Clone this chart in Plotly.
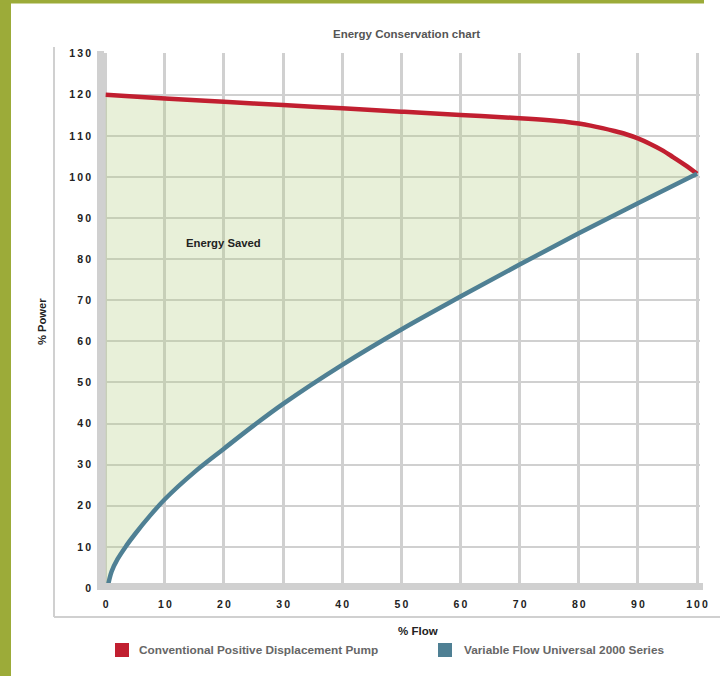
import plotly.graph_objects as go

# ---------------- data ----------------
flow_conventional = [0, 10, 20, 30, 40, 50, 60, 70, 75, 78, 80, 82, 84, 86, 88, 90,
                     92, 94, 96, 98, 100]
power_conventional = [120, 119.1, 118.3, 117.5, 116.7, 115.9, 115.1, 114.3, 113.8, 113.4,
                      113.0, 112.5, 111.9, 111.2, 110.4, 109.4, 108.1, 106.6, 104.8,
                      102.9, 100.8]

flow_variable = [0.3, 1, 2, 3.5, 5, 7.5, 10, 15, 20, 25, 30, 40, 50, 60, 70, 80, 90, 100]
power_variable = [0, 4, 7, 10.3, 13.2, 17.6, 21.6, 28.2, 33.9, 39.5, 44.8, 54.3, 62.9,
                  70.9, 78.7, 86.3, 93.6, 100.8]

x_ticks = [0, 10, 20, 30, 40, 50, 60, 70, 80, 90, 100]
y_ticks = [0, 10, 20, 30, 40, 50, 60, 70, 80, 90, 100, 110, 120, 130]

series_names = ["Conventional Positive Displacement Pump", "Variable Flow Universal 2000 Series"]
series_colors = ["#c11f30", "#4f8094"]

title_text = "Energy Conservation chart"
x_title = "% Flow"
y_title = "% Power"
region_label = "Energy Saved"

# ---------------- layout geometry (pixels) ----------------
W, H = 724, 676
L, R, T, B = 97, 700, 53, 590


def px(xp):
    return (xp - L) / (R - L)


def py(yp):
    return (B - yp) / (B - T)


def spaced(v):
    return "\u2009".join(str(v))


FONT = "Liberation Sans, Arial, sans-serif"

fig = go.Figure()

# energy saved fill
fill_x = flow_conventional + flow_variable[::-1] + [0]
fill_y = power_conventional + power_variable[::-1] + [0]
fig.add_trace(go.Scatter(x=fill_x, y=fill_y, fill="toself", mode="none",
                         fillcolor="rgba(178,205,128,0.3)", hoverinfo="skip",
                         showlegend=False))

fig.add_trace(go.Scatter(x=flow_conventional, y=power_conventional, mode="lines",
                         line=dict(color=series_colors[0], width=4.5, shape="spline",
                                   smoothing=1),
                         name=series_names[0], showlegend=False))
fig.add_trace(go.Scatter(x=flow_variable, y=power_variable, mode="lines",
                         line=dict(color=series_colors[1], width=4.5, shape="spline",
                                   smoothing=1),
                         name=series_names[1], showlegend=False))

shapes = []
GRAY = "#d0d0d0"
# green frame
shapes.append(dict(type="rect", xref="paper", yref="paper", x0=px(0), x1=px(11),
                   y0=py(H), y1=py(0), fillcolor="#9cab39", line=dict(width=0)))
shapes.append(dict(type="rect", xref="paper", yref="paper", x0=px(0), x1=px(704),
                   y0=py(3.5), y1=py(0), fillcolor="#9cab39", line=dict(width=0)))
# thin gray frame lines
shapes.append(dict(type="line", xref="paper", yref="paper", x0=px(54), x1=px(54),
                   y0=py(47), y1=py(617), line=dict(color=GRAY, width=2)))
shapes.append(dict(type="line", xref="paper", yref="paper", x0=px(54), x1=px(720),
                   y0=py(617), y1=py(617), line=dict(color=GRAY, width=2)))
# thick axis bars
shapes.append(dict(type="rect", xref="paper", yref="paper", x0=px(97), x1=px(104),
                   y0=py(590), y1=py(51), fillcolor=GRAY, line=dict(width=0), layer="above"))
shapes.append(dict(type="rect", xref="paper", yref="paper", x0=px(97), x1=px(703),
                   y0=py(590), y1=py(583), fillcolor=GRAY, line=dict(width=0), layer="above"))
# legend swatches
shapes.append(dict(type="rect", xref="paper", yref="paper", x0=px(115), x1=px(129),
                   y0=py(657), y1=py(643), fillcolor=series_colors[0], line=dict(width=0)))
shapes.append(dict(type="rect", xref="paper", yref="paper", x0=px(438), x1=px(452),
                   y0=py(657), y1=py(643), fillcolor=series_colors[1], line=dict(width=0)))

annotations = [
    dict(text=title_text, x=px(406), y=py(34), xref="paper", yref="paper",
         showarrow=False, xanchor="center", yanchor="middle",
         font=dict(family=FONT, size=11.5, color="#555555", weight=700)),
    dict(text=x_title, x=px(418), y=py(631), xref="paper", yref="paper",
         showarrow=False, xanchor="center", yanchor="middle",
         font=dict(family=FONT, size=11.5, color="#222222", weight=700)),
    dict(text=y_title, x=px(42), y=py(322), xref="paper", yref="paper",
         showarrow=False, xanchor="center", yanchor="middle", textangle=-90,
         font=dict(family=FONT, size=11.2, color="#222222", weight=700)),
    dict(text=region_label, x=20, y=84, xref="x", yref="y",
         showarrow=False, xanchor="center", yanchor="middle",
         font=dict(family=FONT, size=11.3, color="#222222", weight=700)),
    dict(text=series_names[0], x=px(137), y=py(650), xref="paper", yref="paper",
         showarrow=False, xanchor="left", yanchor="middle",
         font=dict(family=FONT, size=11.8, color="#666666", weight=700)),
    dict(text=series_names[1], x=px(462), y=py(650), xref="paper", yref="paper",
         showarrow=False, xanchor="left", yanchor="middle",
         font=dict(family=FONT, size=11.8, color="#666666", weight=700)),
]

fig.update_layout(
    width=W, height=H,
    margin=dict(l=L, r=W - R, t=T, b=H - B, pad=0),
    paper_bgcolor="white", plot_bgcolor="white",
    shapes=shapes, annotations=annotations,
    showlegend=False,
    xaxis=dict(range=[-1.47, 100.5], tickvals=x_ticks, ticktext=[spaced(v) for v in x_ticks],
               showgrid=True, gridcolor=GRAY, gridwidth=3, zeroline=False, showline=False,
               ticks="", ticklabelstandoff=6, fixedrange=True,
               tickfont=dict(family=FONT, size=10.5, color="#222222", weight=700)),
    yaxis=dict(range=[-0.49, 130.17], tickvals=y_ticks, ticktext=[spaced(v) for v in y_ticks],
               showgrid=True, gridcolor=GRAY, gridwidth=2, zeroline=False, showline=False,
               ticks="", ticklabelstandoff=5, fixedrange=True,
               tickfont=dict(family=FONT, size=10.5, color="#222222", weight=700)),
)

fig.write_html("out.html", config={"displayModeBar": False},
               post_script="document.body.style.margin='0';document.body.style.padding='0';")
